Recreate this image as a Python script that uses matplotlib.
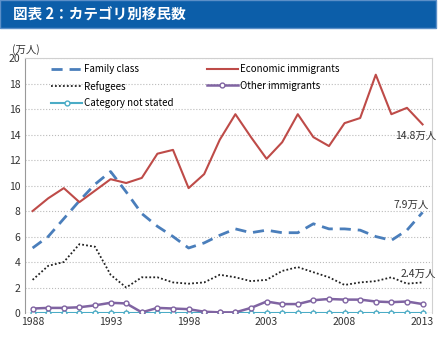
"""図表2: カテゴリ別移民数"""

import numpy as np
import matplotlib.pyplot as plt
from matplotlib.patches import Rectangle
from matplotlib.ticker import MultipleLocator

plt.rcParams['font.family'] = ['Noto Sans CJK JP', 'DejaVu Sans']

# Data (10,000 persons)
years = list(range(1988, 2014))
family = [5.1, 6.0, 7.4, 8.8, 10.1, 11.1, 9.5, 7.8, 6.8, 6.0, 5.1, 5.5, 6.1,
          6.6, 6.3, 6.5, 6.3, 6.3, 7.0, 6.6, 6.6, 6.5, 6.0, 5.7, 6.5, 7.9]
economic = [8.0, 9.0, 9.8, 8.7, 9.6, 10.5, 10.2, 10.6, 12.5, 12.8, 9.8, 10.9, 13.6,
            15.6, 13.8, 12.1, 13.4, 15.6, 13.8, 13.1, 14.9, 15.3, 18.7, 15.6, 16.1, 14.8]
refugees = [2.6, 3.7, 4.0, 5.4, 5.2, 3.0, 2.0, 2.8, 2.8, 2.4, 2.3, 2.4, 3.0,
            2.8, 2.5, 2.6, 3.3, 3.6, 3.2, 2.8, 2.2, 2.4, 2.5, 2.8, 2.3, 2.4]
other = [0.35, 0.4, 0.4, 0.45, 0.6, 0.8, 0.75, 0.05, 0.4, 0.35, 0.3, 0.1, 0.05,
         0.05, 0.4, 0.9, 0.7, 0.7, 1.0, 1.1, 1.05, 1.05, 0.9, 0.85, 0.9, 0.7]
not_stated = [0.02] * len(years)

fig = plt.figure(figsize=(4.43, 3.38), dpi=100)

# Title bar
fig.patches.append(Rectangle((0, 0.918), 0.984, 0.082, transform=fig.transFigure,
                             facecolor='#0c5ea9', edgecolor='#5b8fc8', lw=1))
fig.text(0.03, 0.958, '図表 2：カテゴリ別移民数', color='white', fontsize=10.5,
         fontweight='bold', va='center')

ax = fig.add_axes([0.056, 0.074, 0.919, 0.754])

ax.plot(years, family, color='#4a7ebb', lw=2, ls=(0, (4, 2.5)), label='Family class')
ax.plot(years, refugees, color='#222222', lw=1.3, ls=(0, (1, 1.2)), label='Refugees')
ax.plot(years, not_stated, color='#4bacc6', lw=1.5, marker='o', ms=3.5,
        mfc='white', mec='#4bacc6', mew=1, label='Category not stated')
ax.plot(years, economic, color='#be4b48', lw=1.5, label='Economic immigrants')
ax.plot(years, other, color='#8064a2', lw=1.8, marker='o', ms=3.5,
        mfc='white', mec='#8064a2', mew=1, label='Other immigrants')

ax.set_xlim(1987.5, 2013.6)
ax.set_ylim(0, 20)
ax.set_xticks(range(1988, 2014, 5))
ax.xaxis.set_minor_locator(MultipleLocator(1))
ax.set_yticks(range(0, 21, 2))
ax.tick_params(axis='both', labelsize=7.5, length=0, pad=3, colors='#333333')
ax.tick_params(axis='x', which='both', length=3, color='#999999', direction='in')
ax.yaxis.grid(True, ls=':', color='#bbbbbb', lw=0.8)
for s in ['top', 'right']:
    ax.spines[s].set_color('#d0d0d0')
for s in ['left', 'bottom']:
    ax.spines[s].set_color('#999999')
ax.spines['bottom'].set_visible(False)
ax.axhline(0, color='#999999', lw=0.8, zorder=1)

ax.text(-0.032, 1.02, '(万人)', transform=ax.transAxes, fontsize=7.5, color='#333333')

ax.text(2013.85, 13.9, '14.8万人', fontsize=7.5, ha='right', va='center', color='#333333')
ax.text(2013.4, 8.5, '7.9万人', fontsize=7.5, ha='right', va='center', color='#333333')
ax.text(2013.85, 3.1, '2.4万人', fontsize=7.5, ha='right', va='center', color='#333333')

ax.legend(ncol=2, loc='upper left', bbox_to_anchor=(0.05, 1.0), frameon=False,
          fontsize=7, handlelength=3.2, handletextpad=0.2, columnspacing=3.4,
          labelspacing=0.7, borderaxespad=0.2)

plt.savefig('out.png', dpi=100)
